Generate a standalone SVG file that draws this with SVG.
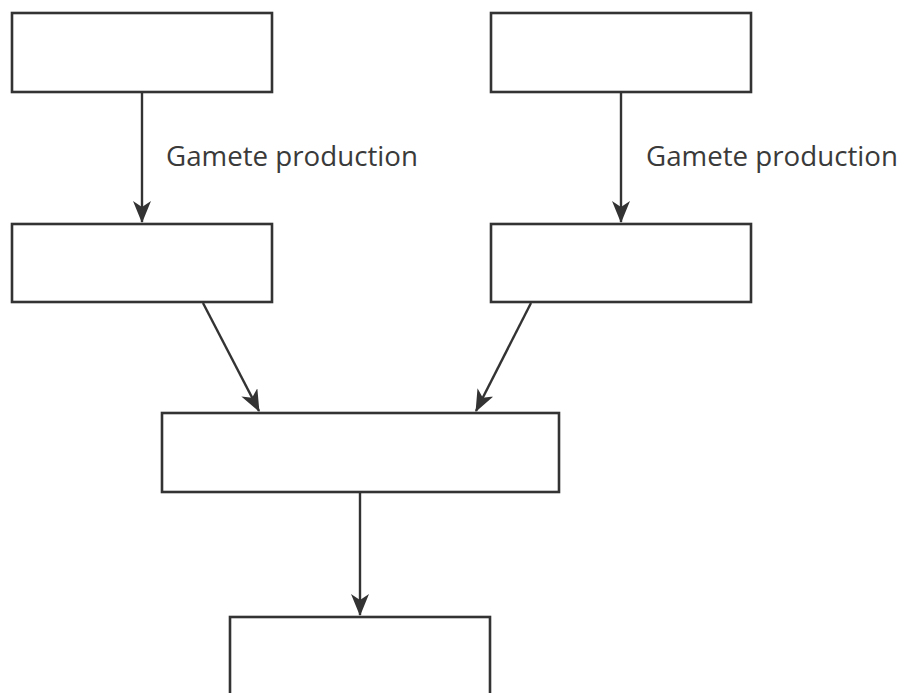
<svg xmlns="http://www.w3.org/2000/svg" width="908" height="693" viewBox="0 0 908 693">
  <style>
    .box { fill: #ffffff; stroke: #333333; stroke-width: 2.6; }
    .edge { fill: none; stroke: #333333; stroke-width: 2.4; }
    .label { font-family: "Open Sans", "DejaVu Sans", sans-serif; font-size: 27.7px; fill: #3a3a3a; }
  </style>
  <defs>
    <marker id="arrow" viewBox="0 0 22 18" refX="21" refY="9" markerWidth="22" markerHeight="18" markerUnits="userSpaceOnUse" orient="auto">
      <path d="M0,0 L22,9 L0,18 L6,9 Z" fill="#333333"/>
    </marker>
  </defs>
  <rect width="908" height="693" fill="#ffffff"/>

  <g id="connectors">
    <line class="edge" x1="142" y1="92" x2="142" y2="222" marker-end="url(#arrow)"/>
    <line class="edge" x1="621" y1="92" x2="621" y2="222" marker-end="url(#arrow)"/>
    <line class="edge" x1="203" y1="303" x2="259" y2="411" marker-end="url(#arrow)"/>
    <line class="edge" x1="531" y1="303" x2="476" y2="411" marker-end="url(#arrow)"/>
    <line class="edge" x1="360" y1="492" x2="360" y2="615" marker-end="url(#arrow)"/>
    <text class="label" x="166" y="166">Gamete production</text>
    <text class="label" x="646" y="166">Gamete production</text>
  </g>

  <g id="parent-left"><rect class="box" x="12" y="13" width="260" height="79"/></g>
  <g id="parent-right"><rect class="box" x="491" y="13" width="260" height="79"/></g>
  <g id="gamete-left"><rect class="box" x="12" y="224" width="260" height="78"/></g>
  <g id="gamete-right"><rect class="box" x="491" y="224" width="260" height="78"/></g>
  <g id="fertilisation"><rect class="box" x="162" y="413" width="397" height="79"/></g>
  <g id="offspring"><rect class="box" x="230" y="617" width="260" height="90"/></g>
</svg>
